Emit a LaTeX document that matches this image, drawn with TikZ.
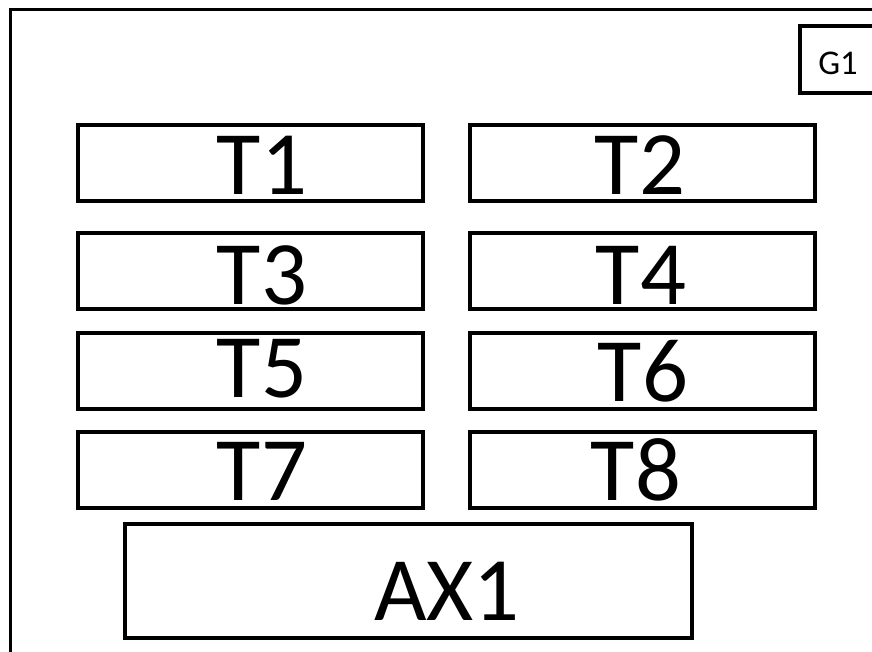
\documentclass[tikz,border=0pt]{standalone}
\usepackage{fontspec}
\setmainfont{Carlito}
\usetikzlibrary{positioning}

\tikzset{
  box/.style={draw=black, line width=2.4pt, fill=white, inner sep=0pt},
  tbox/.style={box, minimum width=258.75pt, minimum height=57pt},
  big/.style={font=\fontsize{68}{68}\selectfont, inner sep=0pt},
  small/.style={font=\fontsize{26}{26}\selectfont, inner sep=0pt},
}

\begin{document}
\begin{tikzpicture}[x=0.75pt, y=-0.75pt]
\useasboundingbox (0,0) rectangle (872,652);
% Outer frame
\draw[line width=2.4pt] (10.5,652) -- (10.5,9.5) -- (872,9.5);

% Group tag
\node[box, minimum width=60pt, minimum height=50.25pt] (g1) at (840,59.5) {};
\node[small] (g1l) at (838,63.5) {G1};

% Left column
\node[tbox] (t1) at (250.5,163) {};
\node[big] (t1l) at (262,165) {T1};
\node[tbox] (t3) at (250.5,271) {};
\node[big] (t3l) at (262,275) {T3};
\node[tbox] (t5) at (250.5,371) {};
\node[big] (t5l) at (262,369) {T5};
\node[tbox] (t7) at (250.5,470) {};
\node[big] (t7l) at (262,471) {T7};

% Right column
\node[tbox] (t2) at (642.5,163) {};
\node[big] (t2l) at (640,165) {T2};
\node[tbox] (t4) at (642.5,271) {};
\node[big] (t4l) at (641,275) {T4};
\node[tbox] (t6) at (642.5,371) {};
\node[big] (t6l) at (643,371) {T6};
\node[tbox] (t8) at (642.5,470) {};
\node[big] (t8l) at (636,470) {T8};

% Bottom box
\node[box, minimum width=425.25pt, minimum height=85.5pt] (ax1) at (408.5,581) {};
\node[big] (ax1l) at (447,591) {AX1};
\end{tikzpicture}
\end{document}
